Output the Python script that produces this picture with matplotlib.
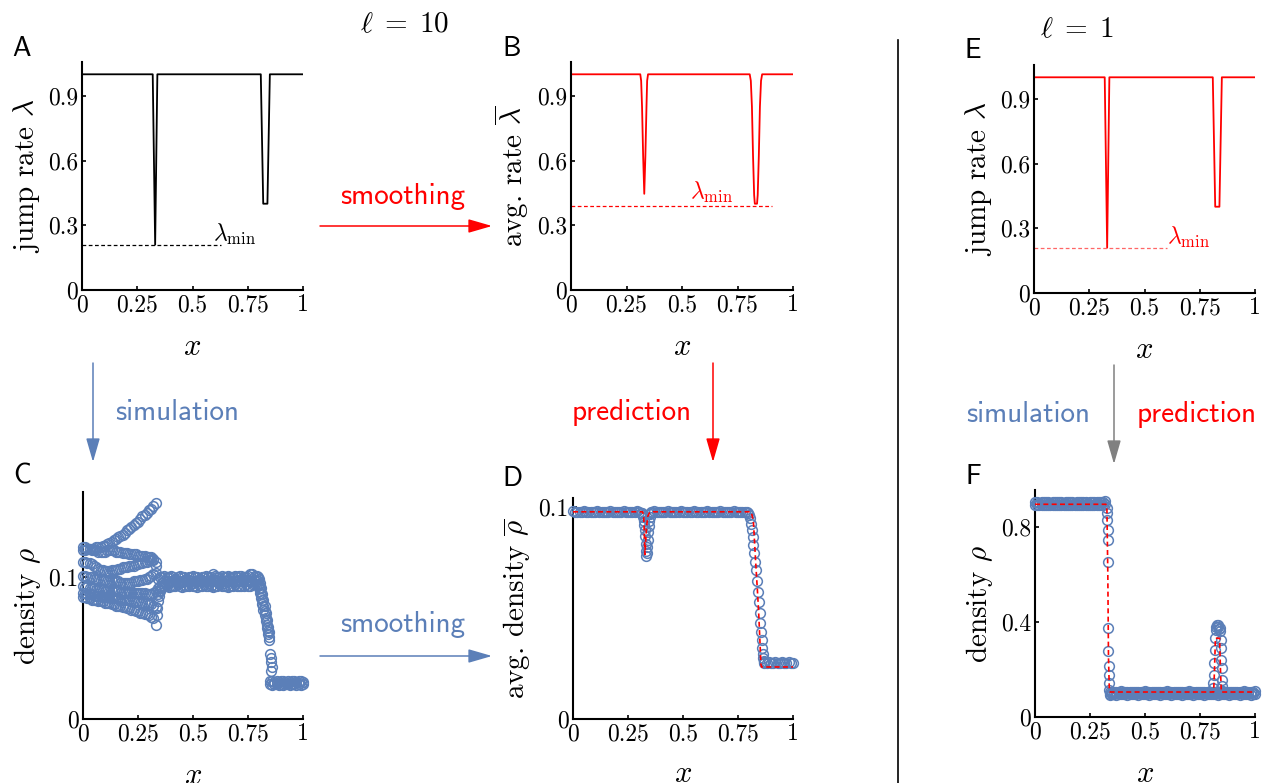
import numpy as np
import matplotlib
matplotlib.use("Agg")
import matplotlib.pyplot as plt
from matplotlib.patches import FancyArrowPatch
from matplotlib.lines import Line2D

plt.rcParams['font.family'] = 'cmr10'
plt.rcParams['mathtext.fontset'] = 'cm'
plt.rcParams['axes.unicode_minus'] = False
plt.rcParams['axes.formatter.use_mathtext'] = True

BLUE = '#5b7fb8'
RED = '#ff0000'

# ---- jump rate (A, E) and smoothed rate (B) ----
lam_x = [0, 0.320, 0.331, 0.341, 0.809, 0.820, 0.839, 0.850, 1.0]
lam_y = [1, 1, 0.21, 1, 1, 0.40, 0.40, 1, 1]
lam_min = 0.21

lbar_x = [0, 0.312, 0.316, 0.320, 0.325, 0.330, 0.335, 0.340, 0.343, 0.347,
          0.805, 0.810, 0.815, 0.820, 0.825, 0.828, 0.838, 0.841, 0.846, 0.851, 0.856, 0.861, 1.0]
lbar_y = [1, 1, 0.97, 0.85, 0.62, 0.446, 0.62, 0.85, 0.97, 1,
          1, 0.97, 0.85, 0.62, 0.44, 0.40, 0.40, 0.44, 0.62, 0.85, 0.97, 1, 1]
lbar_min = 0.388

# ---- C: simulated density, l = 10 ----
# x from 0 to 0.33, step 0.01
c1 = [0.119, 0.119, 0.120, 0.120, 0.120, 0.120, 0.121, 0.121, 0.121, 0.122, 0.122, 0.123, 0.124, 0.125, 0.126, 0.127, 0.128,
      0.129, 0.130, 0.131, 0.133, 0.134, 0.135, 0.137, 0.138, 0.139, 0.141, 0.143, 0.144, 0.145, 0.147, 0.148, 0.150, 0.152]
c2 = [0.121, 0.121, 0.120, 0.120, 0.119, 0.119, 0.119, 0.118, 0.118, 0.118, 0.118, 0.119, 0.119, 0.119, 0.119, 0.118, 0.118,
      0.118, 0.117, 0.117, 0.117, 0.116, 0.116, 0.116, 0.116, 0.115, 0.115, 0.115, 0.115, 0.114, 0.114, 0.114, 0.113, 0.108]
c3 = [0.111, 0.111, 0.110, 0.110, 0.109, 0.108, 0.107, 0.106, 0.105, 0.105, 0.104, 0.104, 0.104, 0.105, 0.105, 0.105, 0.106,
      0.106, 0.107, 0.107, 0.107, 0.108, 0.108, 0.108, 0.109, 0.109, 0.110, 0.110, 0.111, 0.111, 0.112, 0.112, 0.112, 0.111]
c4 = [0.101, 0.101, 0.100, 0.100, 0.100, 0.099, 0.099, 0.099, 0.098, 0.098, 0.098, 0.097, 0.097, 0.097, 0.097, 0.097, 0.097,
      0.096, 0.096, 0.096, 0.096, 0.096, 0.096, 0.097, 0.097, 0.097, 0.098, 0.098, 0.099, 0.099, 0.100, 0.101, 0.102, 0.103]
c5 = [0.094, 0.093, 0.093, 0.092, 0.092, 0.092, 0.091, 0.091, 0.091, 0.091, 0.090, 0.090, 0.090, 0.090, 0.090, 0.090, 0.090,
      0.089, 0.089, 0.089, 0.089, 0.089, 0.089, 0.089, 0.089, 0.089, 0.089, 0.089, 0.089, 0.088, 0.088, 0.088, 0.089, 0.090]
c6 = [0.086, 0.086, 0.085, 0.085, 0.084, 0.084, 0.084, 0.083, 0.083, 0.083, 0.082, 0.082, 0.082, 0.081, 0.081, 0.080, 0.080,
      0.080, 0.079, 0.079, 0.078, 0.078, 0.077, 0.077, 0.076, 0.076, 0.075, 0.075, 0.074, 0.074, 0.073, 0.072, 0.071, 0.066]
c7 = [0.089, 0.089, 0.088, 0.088, 0.088, 0.087, 0.087, 0.087, 0.087, 0.086, 0.086, 0.086, 0.086, 0.085, 0.085, 0.085, 0.085,
      0.084, 0.084, 0.084, 0.084, 0.084, 0.083, 0.083, 0.083, 0.083, 0.082, 0.082, 0.082, 0.082, 0.081, 0.081, 0.080, 0.079]
# plateau, x from 0.34 step 0.01
p1 = [0.099, 0.100, 0.100, 0.101, 0.100, 0.100, 0.101, 0.100, 0.099, 0.100, 0.101, 0.100, 0.100, 0.099, 0.100, 0.100,
      0.101, 0.100, 0.100, 0.099, 0.100, 0.100, 0.101, 0.100, 0.100, 0.102, 0.101, 0.100, 0.100, 0.101, 0.100, 0.100,
      0.101, 0.100, 0.100, 0.101, 0.100, 0.101, 0.101, 0.100, 0.100, 0.101, 0.102, 0.102, 0.101]
p2 = [0.092, 0.094, 0.096, 0.097, 0.097, 0.096, 0.097, 0.097, 0.098, 0.097, 0.096, 0.097, 0.097, 0.097, 0.098, 0.097,
      0.096, 0.097, 0.097, 0.097, 0.098, 0.097, 0.097, 0.096, 0.097, 0.097, 0.098, 0.097, 0.097, 0.097, 0.096, 0.097,
      0.098, 0.097, 0.097, 0.097, 0.097, 0.098, 0.097, 0.097, 0.097, 0.098, 0.097, 0.097, 0.097]
p3 = [0.088, 0.091, 0.093, 0.094, 0.094, 0.093, 0.094, 0.094, 0.094, 0.095, 0.094, 0.093, 0.094, 0.094, 0.094, 0.095,
      0.094, 0.094, 0.093, 0.094, 0.094, 0.095, 0.094, 0.094, 0.094, 0.093, 0.094, 0.094, 0.095, 0.094, 0.094, 0.094,
      0.093, 0.094, 0.094, 0.095, 0.094, 0.094, 0.094, 0.094, 0.095, 0.094, 0.094, 0.095, 0.095]
gap_x = [0.335, 0.338, 0.342, 0.346, 0.350, 0.355]
gap_y = [0.073, 0.078, 0.083, 0.087, 0.090, 0.092]
# drop, x from 0.79 step 0.005
d1 = [0.101, 0.100, 0.099, 0.096, 0.092, 0.088, 0.084, 0.080, 0.075, 0.070, 0.065, 0.061]
d2 = [0.098, 0.097, 0.095, 0.092, 0.088, 0.084, 0.080, 0.076, 0.071, 0.066, 0.062, 0.058]
d3 = [0.095, 0.094, 0.092, 0.089, 0.085, 0.081, 0.077, 0.073, 0.069, 0.064, 0.060, 0.056]
scat_x = [0.852, 0.855, 0.856, 0.857, 0.855]
scat_y = [0.046, 0.043, 0.040, 0.037, 0.034]
# low end, x from 0.85 step 0.01
b1 = [0.027, 0.027, 0.026, 0.027, 0.026, 0.027, 0.027, 0.026, 0.027, 0.026, 0.027, 0.027, 0.026, 0.027, 0.027, 0.026]
b2 = [0.025, 0.024, 0.025, 0.025, 0.024, 0.025, 0.024, 0.025, 0.025, 0.024, 0.025, 0.025, 0.024, 0.025, 0.024, 0.025]

# ---- D: averaged density, l = 10 ----
da = [0.0978, 0.0975, 0.0977, 0.0974, 0.0976, 0.0978, 0.0975, 0.0976, 0.0977, 0.0974, 0.0976, 0.0978, 0.0975, 0.0976,
      0.0977, 0.0975, 0.0976, 0.0978, 0.0974, 0.0976, 0.0977, 0.0975, 0.0976, 0.0978, 0.0975, 0.0976, 0.0977, 0.0974,
      0.0976, 0.0978, 0.0975, 0.0972]  # x from 0 step 0.01
ddip_x = [0.315, 0.318, 0.320, 0.322, 0.324, 0.326, 0.328, 0.330, 0.332, 0.334, 0.336, 0.338, 0.340, 0.342, 0.344,
          0.346, 0.348, 0.350, 0.353, 0.356]
ddip_y = [0.0968, 0.0960, 0.0950, 0.0935, 0.0915, 0.0890, 0.0860, 0.0825, 0.0790, 0.0768, 0.0780, 0.0810, 0.0845,
          0.0880, 0.0910, 0.0935, 0.0952, 0.0964, 0.0972, 0.0975]
db = [0.0976, 0.0978, 0.0975, 0.0976, 0.0977, 0.0974, 0.0976, 0.0978, 0.0975, 0.0976, 0.0977, 0.0975, 0.0976, 0.0978,
      0.0974, 0.0976, 0.0977, 0.0975, 0.0976, 0.0978, 0.0975, 0.0976, 0.0977, 0.0974, 0.0976, 0.0978, 0.0975, 0.0976,
      0.0977, 0.0975, 0.0976, 0.0978, 0.0974, 0.0976, 0.0977, 0.0975, 0.0976, 0.0978, 0.0975, 0.0976, 0.0977, 0.0974,
      0.0976, 0.0977]  # x from 0.36 step 0.01
ddrop_x = [0.795, 0.800, 0.804, 0.808, 0.812, 0.816, 0.820, 0.824, 0.828, 0.832, 0.836, 0.840, 0.844, 0.848, 0.852,
           0.855, 0.858, 0.860, 0.862, 0.864, 0.866, 0.868]
ddrop_y = [0.0972, 0.0962, 0.0945, 0.0920, 0.0890, 0.0855, 0.0820, 0.0780, 0.0740, 0.0700, 0.0650, 0.0600, 0.0550,
           0.0500, 0.0450, 0.0410, 0.0370, 0.0335, 0.0305, 0.0285, 0.0272, 0.0266]
dc = [0.0268, 0.0265, 0.0267, 0.0264, 0.0266, 0.0268, 0.0265, 0.0266, 0.0267, 0.0264, 0.0266, 0.0268, 0.0265,
      0.0266]  # x from 0.87 step 0.01
dpred_x = [0, 0.316, 0.321, 0.324, 0.327, 0.330, 0.334, 0.340, 0.348, 0.356, 0.808, 0.814, 0.820, 0.826, 0.832,
           0.838, 0.844, 0.850, 0.854, 0.857, 1.0]
dpred_y = [0.0976, 0.0976, 0.0960, 0.0880, 0.0775, 0.0830, 0.0900, 0.0955, 0.0972, 0.0976, 0.0976, 0.0960, 0.0930,
           0.0820, 0.0710, 0.0610, 0.0500, 0.0360, 0.0260, 0.0245, 0.0245]

# ---- F: density, l = 1 ----
fa = [0.902, 0.904, 0.901, 0.903, 0.905, 0.902, 0.903, 0.901, 0.904, 0.902, 0.903, 0.905, 0.902, 0.901, 0.903, 0.904,
      0.902, 0.903, 0.901, 0.904, 0.903, 0.902, 0.905, 0.903, 0.901, 0.902, 0.904, 0.903, 0.902, 0.905, 0.903, 0.904,
      0.906]  # x from 0 step 0.01
fb = [0.892, 0.890, 0.893, 0.891, 0.889, 0.892, 0.890, 0.893, 0.891, 0.890, 0.892, 0.889, 0.891, 0.893, 0.890, 0.892,
      0.891, 0.889, 0.892, 0.890, 0.893, 0.891, 0.890, 0.892, 0.889, 0.891, 0.893, 0.890, 0.892, 0.891, 0.890, 0.893,
      0.895]
fdrop_x = [0.325, 0.327, 0.329, 0.330, 0.331, 0.332, 0.333, 0.334, 0.335, 0.336, 0.337, 0.338, 0.340]
fdrop_y = [0.880, 0.856, 0.828, 0.786, 0.744, 0.653, 0.373, 0.276, 0.213, 0.178, 0.143, 0.115, 0.094]
fc = [0.104, 0.106, 0.107, 0.105, 0.106, 0.108, 0.105, 0.106, 0.107, 0.104, 0.106, 0.105, 0.107, 0.106, 0.104, 0.106,
      0.108, 0.105, 0.106, 0.107, 0.105, 0.106, 0.104, 0.107, 0.106, 0.105, 0.108, 0.106, 0.105, 0.107, 0.106, 0.104,
      0.106, 0.107, 0.105, 0.106, 0.108, 0.106, 0.105, 0.106, 0.107, 0.105, 0.106, 0.104, 0.107, 0.106, 0.105, 0.107,
      0.106, 0.105, 0.106, 0.108, 0.106, 0.105, 0.107, 0.106, 0.104, 0.106, 0.107, 0.105, 0.106, 0.108, 0.105, 0.106,
      0.107, 0.106, 0.110]  # x from 0.34 step 0.01
fd = [0.097, 0.095, 0.096, 0.094, 0.097, 0.096, 0.095, 0.097, 0.094, 0.096, 0.095, 0.097, 0.096, 0.094, 0.096, 0.095,
      0.097, 0.096, 0.094, 0.095, 0.097, 0.096, 0.095, 0.094, 0.096, 0.097, 0.095, 0.096, 0.094, 0.097, 0.096, 0.095,
      0.097, 0.094, 0.096, 0.095, 0.096, 0.097, 0.094, 0.096, 0.095, 0.097, 0.096, 0.094, 0.096, 0.095, 0.097, 0.096,
      0.095, 0.094, 0.096, 0.097, 0.095, 0.096, 0.094, 0.097, 0.096, 0.095, 0.096, 0.094, 0.097, 0.095, 0.096, 0.097,
      0.094, 0.096, 0.095]
fpeak_x = [0.810, 0.811, 0.812, 0.814, 0.816, 0.818, 0.821, 0.824, 0.827, 0.830, 0.833, 0.836, 0.839, 0.842, 0.845,
           0.846, 0.847, 0.848, 0.849, 0.850, 0.852]
fpeak_y = [0.120, 0.143, 0.178, 0.227, 0.283, 0.330, 0.365, 0.380, 0.387, 0.385, 0.378, 0.370, 0.375, 0.360, 0.325,
           0.290, 0.240, 0.206, 0.157, 0.129, 0.110]
fpred_x = [0, 0.322, 0.327, 0.331, 0.334, 0.338, 0.342, 0.812, 0.816, 0.820, 0.839, 0.843, 0.847, 1.0]
fpred_y = [0.894, 0.894, 0.870, 0.600, 0.250, 0.110, 0.105, 0.105, 0.200, 0.331, 0.331, 0.200, 0.105, 0.105]

W, H = 1262, 783
fig = plt.figure(figsize=(W / 100, H / 100), dpi=100)


def rect(l, t, r, b):
    return [l / W, 1 - b / H, (r - l) / W, (b - t) / H]


def style(ax, ylim, yt, ytl):
    ax.set_xlim(0, 1)
    ax.set_ylim(*ylim)
    for s in ['top', 'right']:
        ax.spines[s].set_visible(False)
    for s in ['left', 'bottom']:
        ax.spines[s].set_linewidth(1.5)
    ax.set_xticks([0, 0.25, 0.5, 0.75, 1])
    ax.set_xticklabels(['0', '0.25', '0.5', '0.75', '1'])
    ax.set_yticks(yt)
    ax.set_yticklabels(ytl)
    ax.tick_params(direction='in', length=3, width=1.2, labelsize=17, pad=3)
    ax.set_xlabel('$x$', fontsize=22)
    ax.xaxis.set_label_coords(0.5, -0.19)


def seg(start, step, ys):
    return start + step * np.arange(len(ys)), ys


def circles(ax, x, y):
    ax.plot(x, y, 'o', mfc='none', mec=BLUE, ms=7, mew=1.1, clip_on=False, zorder=3)


lam_ticks = [0, 0.3, 0.6, 0.9]
lam_tl = ['0', '0.3', '0.6', '0.9']

# A
axA = fig.add_axes(rect(82, 62, 303, 290))
axA.plot(lam_x, lam_y, color='k', lw=1.3)
axA.plot([0, 0.63], [lam_min, lam_min], color='k', lw=0.9, ls=(0, (3, 2)))
axA.text(0.595, lam_min - 0.01, r'$\lambda_{\rm min}$', fontsize=17, va='bottom')
style(axA, (0, 1.057), lam_ticks, lam_tl)
axA.set_ylabel(r'jump rate $\lambda$', fontsize=21)
axA.yaxis.set_label_coords(-0.18, 0.5)

# B
axB = fig.add_axes(rect(571, 62, 793, 290))
axB.plot(lbar_x, lbar_y, color=RED, lw=1.3)
axB.plot([0, 0.905], [lbar_min, lbar_min], color=RED, lw=0.9, ls=(0, (3, 2)))
axB.text(0.535, lbar_min + 0.005, r'$\lambda_{\rm min}$', fontsize=17, va='bottom', color=RED)
style(axB, (0, 1.057), lam_ticks, lam_tl)
axB.set_ylabel(r'avg. rate $\overline{\lambda}$', fontsize=21)
axB.yaxis.set_label_coords(-0.18, 0.5)

# E
axE = fig.add_axes(rect(1034, 65, 1255, 293))
axE.plot(lam_x, lam_y, color=RED, lw=1.3)
axE.plot([0, 0.60], [lam_min, lam_min], color='#ff6666', lw=0.9, ls=(0, (3, 2)))
axE.text(0.60, lam_min - 0.01, r'$\lambda_{\rm min}$', fontsize=17, va='bottom', color=RED)
style(axE, (0, 1.057), lam_ticks, lam_tl)
axE.set_ylabel(r'jump rate $\lambda$', fontsize=21)
axE.yaxis.set_label_coords(-0.18, 0.5)

# C
axC = fig.add_axes(rect(83, 492, 303, 719))
for c in [c1, c2, c3, c4, c7, c5, c6]:
    circles(axC, *seg(0.0, 0.01, c))
circles(axC, gap_x, gap_y)
for p in [p1, p2, p3]:
    circles(axC, *seg(0.34, 0.01, p))
for d in [d1, d2, d3]:
    circles(axC, *seg(0.79, 0.005, d))
circles(axC, scat_x, scat_y)
for b in [b1, b2]:
    circles(axC, *seg(0.85, 0.01, b))
style(axC, (0, 0.16), [0, 0.1], ['0', '0.1'])
axC.set_ylabel(r'density $\rho$', fontsize=21)
axC.yaxis.set_label_coords(-0.18, 0.5)

# D
axD = fig.add_axes(rect(573, 498, 793, 719))
circles(axD, *seg(0.0, 0.01, da))
circles(axD, ddip_x, ddip_y)
circles(axD, *seg(0.36, 0.01, db))
circles(axD, ddrop_x, ddrop_y)
circles(axD, *seg(0.87, 0.01, dc))
axD.plot(dpred_x, dpred_y, color=RED, lw=1.2, ls=(0, (3, 2)), zorder=4)
style(axD, (0, 0.1041), [0, 0.1], ['0', '0.1'])
axD.set_ylabel(r'avg. density $\overline{\rho}$', fontsize=21)
axD.yaxis.set_label_coords(-0.18, 0.5)

# F
axF = fig.add_axes(rect(1035, 490, 1255, 717))
circles(axF, *seg(0.0, 0.01, fa))
circles(axF, *seg(0.0, 0.01, fb))
circles(axF, fdrop_x, fdrop_y)
circles(axF, *seg(0.34, 0.01, fc))
circles(axF, *seg(0.34, 0.01, fd))
circles(axF, fpeak_x, fpeak_y)
axF.plot(fpred_x, fpred_y, color=RED, lw=1.2, ls=(0, (3, 2)), zorder=4)
style(axF, (0, 0.954), [0, 0.4, 0.8], ['0', '0.4', '0.8'])
axF.set_ylabel(r'density $\rho$', fontsize=21)
axF.yaxis.set_label_coords(-0.18, 0.5)


# ---- decorations in figure pixels (top-left origin) ----
def ftext(px, py, s, **kw):
    fig.text(px / W, 1 - py / H, s, ha='center', va='center', **kw)


def farrow(x0, y0, x1, y1, color):
    a = FancyArrowPatch((x0 / W, 1 - y0 / H), (x1 / W, 1 - y1 / H), transform=fig.transFigure,
                        arrowstyle='-|>,head_length=1.45,head_width=0.42', mutation_scale=10,
                        color=color, lw=1.1, shrinkA=0, shrinkB=0)
    fig.add_artist(a)


sans = dict(family='cmss10')
for lab, px, py in [('A', 22, 48), ('B', 512, 48), ('E', 973, 50), ('C', 22, 476), ('D', 512, 478), ('F', 973, 476)]:
    ftext(px, py, lab, fontsize=20, **sans)

ftext(405, 25, r'$\ell\;=\;10$', fontsize=21)
ftext(1077, 30, r'$\ell\;=\;1$', fontsize=21)

farrow(320, 226, 492, 226, RED)
ftext(403, 196, 'smoothing', fontsize=21, color=RED, **sans)
farrow(93, 363, 93, 462, BLUE)
ftext(177, 412, 'simulation', fontsize=21, color=BLUE, **sans)
farrow(713, 363, 713, 462, RED)
ftext(632, 412, 'prediction', fontsize=21, color=RED, **sans)
farrow(320, 656, 492, 656, BLUE)
ftext(403, 624, 'smoothing', fontsize=21, color=BLUE, **sans)
farrow(1114, 365, 1114, 464, '#808080')
ftext(1028, 415, 'simulation', fontsize=21, color=BLUE, **sans)
ftext(1197, 415, 'prediction', fontsize=21, color=RED, **sans)

fig.add_artist(Line2D([898 / W, 898 / W], [1 - 40 / H, 0], transform=fig.transFigure, color='k', lw=1.2))

fig.savefig('out.png', dpi=100)
